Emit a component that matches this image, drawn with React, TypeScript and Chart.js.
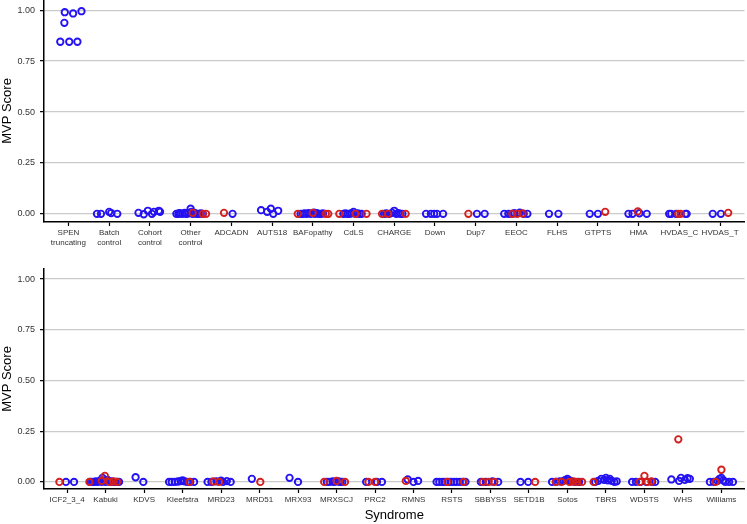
import React, { useEffect, useRef } from "react";
import { Chart, registerables } from "chart.js";
Chart.register(...registerables);

const FONT = "'Liberation Sans', Arial, sans-serif";
const BLUE = "#2412f2";
const RED = "#d41f1f";

const topCategories = [
  "SPEN\ntruncating", "Batch\ncontrol", "Cohort\ncontrol", "Other\ncontrol", "ADCADN", "AUTS18",
  "BAFopathy", "CdLS", "CHARGE", "Down", "Dup7", "EEOC", "FLHS", "GTPTS", "HMA", "HVDAS_C", "HVDAS_T",
];
const bottomCategories = [
  "ICF2_3_4", "Kabuki", "KDVS", "Kleefstra", "MRD23", "MRD51", "MRX93", "MRXSCJ", "PRC2", "RMNS",
  "RSTS", "SBBYSS", "SETD1B", "Sotos", "TBRS", "WDSTS", "WHS", "Williams",
];
const yTickValues = [0, 0.25, 0.5, 0.75, 1];

// [category, jitter (category units), MVP score]
type Pt = [string, number, number];

const topBlue: Pt[] = [
  ["SPEN\ntruncating", -0.2, 0.845], ["SPEN\ntruncating", 0.02, 0.845], ["SPEN\ntruncating", 0.22, 0.845],
  ["SPEN\ntruncating", -0.1, 0.938], ["SPEN\ntruncating", -0.09, 0.99], ["SPEN\ntruncating", 0.115, 0.984],
  ["SPEN\ntruncating", 0.32, 0.995],
  ["Batch\ncontrol", -0.3, 0], ["Batch\ncontrol", -0.2, 0], ["Batch\ncontrol", 0, 0.01], ["Batch\ncontrol", 0.05, 0.004], ["Batch\ncontrol", 0.2, 0],
  ["Cohort\ncontrol", -0.28, 0.005], ["Cohort\ncontrol", -0.15, -0.002], ["Cohort\ncontrol", -0.05, 0.015], ["Cohort\ncontrol", 0.05, 0],
  ["Cohort\ncontrol", 0.1, 0.01], ["Cohort\ncontrol", 0.22, 0.015], ["Cohort\ncontrol", 0.25, 0.01],
  ["Other\ncontrol", -0.35, 0], ["Other\ncontrol", -0.3, 0], ["Other\ncontrol", -0.28, 0.004], ["Other\ncontrol", -0.25, 0.002],
  ["Other\ncontrol", -0.2, 0], ["Other\ncontrol", -0.15, 0.005], ["Other\ncontrol", -0.12, 0.002], ["Other\ncontrol", -0.1, 0],
  ["Other\ncontrol", -0.05, 0.003], ["Other\ncontrol", 0, 0.025], ["Other\ncontrol", 0.02, 0.01], ["Other\ncontrol", 0.05, 0],
  ["Other\ncontrol", 0.08, 0.002], ["Other\ncontrol", 0.1, 0.005], ["Other\ncontrol", 0.15, 0], ["Other\ncontrol", 0.2, 0],
  ["Other\ncontrol", 0.25, 0.002], ["Other\ncontrol", 0.3, 0],
  ["ADCADN", 0.03, 0],
  ["AUTS18", -0.27, 0.018], ["AUTS18", -0.12, 0.01], ["AUTS18", -0.03, 0.025], ["AUTS18", 0.03, 0], ["AUTS18", 0.15, 0.015],
  ["BAFopathy", -0.3, 0], ["BAFopathy", -0.25, 0], ["BAFopathy", -0.2, 0.002], ["BAFopathy", -0.15, 0], ["BAFopathy", -0.1, 0.004],
  ["BAFopathy", -0.05, 0], ["BAFopathy", 0.03, 0.006], ["BAFopathy", 0.05, 0], ["BAFopathy", 0.1, 0.003], ["BAFopathy", 0.15, 0],
  ["BAFopathy", 0.2, 0], ["BAFopathy", 0.25, 0.002],
  ["CdLS", -0.25, 0], ["CdLS", -0.2, 0.002], ["CdLS", -0.15, 0], ["CdLS", -0.1, 0], ["CdLS", -0.05, 0.003], ["CdLS", 0, 0.01],
  ["CdLS", 0.05, 0], ["CdLS", 0.1, 0.002], ["CdLS", 0.15, 0], ["CdLS", 0.2, 0],
  ["CHARGE", -0.25, 0], ["CHARGE", -0.2, 0.002], ["CHARGE", -0.12, 0], ["CHARGE", -0.05, 0.005], ["CHARGE", 0, 0.015],
  ["CHARGE", 0.05, 0], ["CHARGE", 0.1, 0.004], ["CHARGE", 0.15, 0], ["CHARGE", 0.2, 0],
  ["Down", -0.22, 0], ["Down", -0.1, 0], ["Down", -0.02, 0], ["Down", 0.05, 0], ["Down", 0.2, 0],
  ["Dup7", 0.03, 0], ["Dup7", 0.22, 0],
  ["EEOC", -0.3, 0], ["EEOC", -0.2, 0], ["EEOC", -0.12, 0], ["EEOC", -0.05, 0.003], ["EEOC", 0.08, 0.006], ["EEOC", 0.18, 0], ["EEOC", 0.27, 0],
  ["FLHS", -0.2, 0], ["FLHS", 0.03, 0],
  ["GTPTS", -0.2, 0], ["GTPTS", 0, 0],
  ["HMA", -0.25, 0], ["HMA", -0.15, 0], ["HMA", 0.02, 0.003], ["HMA", 0.2, 0],
  ["HVDAS_C", -0.25, 0], ["HVDAS_C", -0.2, 0], ["HVDAS_C", -0.08, 0], ["HVDAS_C", 0.15, 0], ["HVDAS_C", 0.18, 0],
  ["HVDAS_T", -0.18, 0], ["HVDAS_T", 0.02, 0],
];

const topRed: Pt[] = [
  ["Other\ncontrol", 0.05, 0.005], ["Other\ncontrol", 0.3, 0], ["Other\ncontrol", 0.38, 0],
  ["ADCADN", -0.18, 0.005],
  ["BAFopathy", -0.37, 0], ["BAFopathy", 0, 0.005], ["BAFopathy", 0.32, 0], ["BAFopathy", 0.38, 0],
  ["CdLS", -0.35, 0], ["CdLS", 0.05, 0], ["CdLS", 0.32, 0],
  ["CHARGE", -0.3, 0], ["CHARGE", -0.15, 0], ["CHARGE", 0.28, 0],
  ["Dup7", -0.18, 0],
  ["EEOC", -0.1, 0], ["EEOC", 0.02, 0], ["EEOC", 0.15, 0.002],
  ["GTPTS", 0.18, 0.01],
  ["HMA", -0.02, 0.012],
  ["HVDAS_C", -0.03, 0], ["HVDAS_C", 0.03, 0],
  ["HVDAS_T", 0.2, 0.005],
];

const bottomBlue: Pt[] = [
  ["ICF2_3_4", -0.03, 0], ["ICF2_3_4", 0.18, 0],
  ["Kabuki", -0.4, 0], ["Kabuki", -0.35, 0], ["Kabuki", -0.3, 0], ["Kabuki", -0.25, 0.002], ["Kabuki", -0.2, 0],
  ["Kabuki", -0.15, 0.005], ["Kabuki", -0.1, 0], ["Kabuki", -0.08, 0.02], ["Kabuki", -0.05, 0.008], ["Kabuki", 0, 0],
  ["Kabuki", 0.05, 0.01], ["Kabuki", 0.1, 0], ["Kabuki", 0.15, 0.003], ["Kabuki", 0.2, 0], ["Kabuki", 0.25, 0],
  ["Kabuki", 0.3, 0], ["Kabuki", 0.35, 0],
  ["KDVS", -0.22, 0.023], ["KDVS", -0.02, 0],
  ["Kleefstra", -0.35, 0], ["Kleefstra", -0.28, 0], ["Kleefstra", -0.2, 0], ["Kleefstra", -0.12, 0.002], ["Kleefstra", -0.05, 0.004],
  ["Kleefstra", 0, 0.008], ["Kleefstra", 0.05, 0.003], ["Kleefstra", 0.12, 0], ["Kleefstra", 0.2, 0], ["Kleefstra", 0.3, 0],
  ["MRD23", -0.35, 0], ["MRD23", -0.25, 0], ["MRD23", -0.12, 0.003], ["MRD23", 0, 0.006], ["MRD23", 0.05, 0],
  ["MRD23", 0.15, 0.004], ["MRD23", 0.25, 0],
  ["MRD51", -0.2, 0.015],
  ["MRX93", -0.22, 0.02], ["MRX93", 0, 0],
  ["MRXSCJ", -0.25, 0], ["MRXSCJ", -0.18, 0], ["MRXSCJ", -0.1, 0.002], ["MRXSCJ", -0.05, 0], ["MRXSCJ", 0.05, 0.002],
  ["MRXSCJ", 0.1, 0], ["MRXSCJ", 0.15, 0],
  ["PRC2", -0.23, 0], ["PRC2", 0.05, 0], ["PRC2", 0.18, 0],
  ["RMNS", -0.15, 0.012], ["RMNS", 0, 0], ["RMNS", 0.12, 0.005],
  ["RSTS", -0.4, 0], ["RSTS", -0.33, 0], ["RSTS", -0.25, 0], ["RSTS", -0.18, 0], ["RSTS", -0.1, 0], ["RSTS", -0.03, 0],
  ["RSTS", 0.05, 0], ["RSTS", 0.12, 0], ["RSTS", 0.2, 0], ["RSTS", 0.28, 0], ["RSTS", 0.35, 0],
  ["SBBYSS", -0.25, 0], ["SBBYSS", -0.12, 0], ["SBBYSS", 0.05, 0.002], ["SBBYSS", 0.2, 0],
  ["SETD1B", -0.22, 0], ["SETD1B", -0.02, 0],
  ["Sotos", -0.4, 0], ["Sotos", -0.3, 0], ["Sotos", -0.2, 0.003], ["Sotos", -0.1, 0.005], ["Sotos", -0.05, 0.01],
  ["Sotos", 0, 0.015], ["Sotos", 0.05, 0.008], ["Sotos", 0.1, 0.003], ["Sotos", 0.2, 0], ["Sotos", 0.3, 0],
  ["TBRS", -0.28, 0], ["TBRS", -0.2, 0.005], ["TBRS", -0.12, 0.015], ["TBRS", -0.05, 0.01], ["TBRS", 0, 0.02],
  ["TBRS", 0.05, 0.008], ["TBRS", 0.1, 0.015], ["TBRS", 0.15, 0.005], ["TBRS", 0.22, 0], ["TBRS", 0.28, 0.003],
  ["WDSTS", -0.32, 0], ["WDSTS", -0.22, 0], ["WDSTS", -0.1, 0], ["WDSTS", 0.05, 0], ["WDSTS", 0.2, 0], ["WDSTS", 0.28, 0],
  ["WHS", -0.3, 0.012], ["WHS", -0.1, 0.005], ["WHS", -0.05, 0.02], ["WHS", 0.05, 0.01], ["WHS", 0.12, 0.018], ["WHS", 0.18, 0.015],
  ["Williams", -0.3, 0], ["Williams", -0.2, 0], ["Williams", -0.1, 0.005], ["Williams", -0.05, 0.015], ["Williams", 0, 0.02],
  ["Williams", 0.05, 0.008], ["Williams", 0.1, 0], ["Williams", 0.2, 0], ["Williams", 0.3, 0],
];

const bottomRed: Pt[] = [
  ["ICF2_3_4", -0.2, 0],
  ["Kabuki", -0.42, 0], ["Kabuki", -0.1, 0.005], ["Kabuki", -0.02, 0.03], ["Kabuki", 0.1, 0], ["Kabuki", 0.2, 0.002], ["Kabuki", 0.3, 0],
  ["Kleefstra", 0.18, 0],
  ["MRD23", -0.2, 0.002], ["MRD23", -0.05, 0],
  ["MRD51", 0.02, 0],
  ["MRXSCJ", -0.32, 0], ["MRXSCJ", 0, 0.005], ["MRXSCJ", 0.22, 0],
  ["PRC2", -0.17, 0], ["PRC2", 0, 0],
  ["RMNS", -0.2, 0.005],
  ["RSTS", -0.12, 0], ["RSTS", 0.3, 0],
  ["SBBYSS", -0.2, 0], ["SBBYSS", -0.05, 0], ["SBBYSS", 0.1, 0],
  ["SETD1B", 0.16, 0],
  ["Sotos", -0.3, 0], ["Sotos", -0.15, 0], ["Sotos", 0.05, 0], ["Sotos", 0.15, 0.002], ["Sotos", 0.25, 0], ["Sotos", 0.38, 0],
  ["TBRS", -0.32, 0],
  ["WDSTS", -0.12, 0], ["WDSTS", 0, 0.03], ["WDSTS", 0.08, 0], ["WDSTS", 0.18, 0.002],
  ["WHS", -0.12, 0.21],
  ["Williams", -0.15, 0], ["Williams", 0, 0.06],
];

type PanelProps = {
  cats: string[];
  blue: Pt[];
  red: Pt[];
  xTitle: string | null;
  padTop: number;
  xHeight: number;
  yMin: number;
};

const zeroPad = () => ({ left: 0, top: 0, right: 0, bottom: 0 });

function Panel({ cats, blue, red, xTitle, padTop, xHeight, yMin }: PanelProps) {
  const ref = useRef<HTMLCanvasElement | null>(null);
  useEffect(() => {
    if (!ref.current) return;
    const toXY = (pts: Pt[]) => pts.map(([c, j, v]) => ({ x: cats.indexOf(c) + j, y: v }));
    const pointStyle = (color: string) => ({
      pointRadius: 3.2,
      pointBorderWidth: 1.9,
      pointBackgroundColor: "rgba(0,0,0,0)",
      pointBorderColor: color,
      borderColor: color,
      backgroundColor: "rgba(0,0,0,0)",
      showLine: false,
      clip: false,
    });
    const chart = new Chart(ref.current, {
      type: "scatter",
      data: {
        datasets: [
          { label: "red", data: toXY(red), ...pointStyle(RED) },
          { label: "blue", data: toXY(blue), ...pointStyle(BLUE) },
        ],
      },
      options: {
        animation: false,
        responsive: false,
        layout: { autoPadding: false, padding: { top: padTop, right: 2.5, left: 0, bottom: 0 } },
        plugins: { legend: { display: false }, tooltip: { enabled: false } },
        scales: {
          x: {
            type: "linear",
            min: -0.6,
            max: cats.length - 0.4,
            afterBuildTicks: (s: any) => {
              s.ticks = cats.map((_, i) => ({ value: i }));
            },
            afterFit: (s: any) => {
              s.height = xHeight;
              s.paddingLeft = 0;
              s.paddingRight = 0;
              s.paddingTop = 0;
              s.paddingBottom = 0;
              s.getPadding = zeroPad;
            },
            ticks: {
              autoSkip: false,
              maxRotation: 0,
              minRotation: 0,
              padding: 2,
              color: "#333",
              font: { family: FONT, size: 8 },
              callback: (v: any) => {
                const lbl = cats[Math.round(Number(v))];
                return lbl ? lbl.split("\n") : "";
              },
            },
            grid: { drawOnChartArea: false, drawTicks: true, tickLength: 4, tickColor: "#000", tickWidth: 1.2 },
            border: { display: true, color: "#000", width: 1.5 },
            title: xTitle
              ? { display: true, text: xTitle, color: "#000", font: { family: FONT, size: 13 }, padding: { top: 0, bottom: 1 } }
              : { display: false },
          },
          y: {
            type: "linear",
            min: yMin,
            max: 1.05,
            afterBuildTicks: (s: any) => {
              s.ticks = yTickValues.map((v) => ({ value: v }));
            },
            afterFit: (s: any) => {
              s.width = 44;
              s.paddingTop = 0;
              s.paddingBottom = 0;
              s.paddingLeft = 0;
              s.paddingRight = 0;
              s.getPadding = zeroPad;
            },
            ticks: {
              padding: 5,
              color: "#333",
              font: { family: FONT, size: 9 },
              callback: (v: any) => Number(v).toFixed(2),
            },
            grid: { color: "#cbcbcb", lineWidth: 1.3, tickColor: "#000", tickLength: 4, tickWidth: 1.2 },
            border: { display: true, color: "#000", width: 1.5 },
            title: { display: true, text: "MVP Score", color: "#000", font: { family: FONT, size: 13 }, padding: { top: 0, bottom: 0 } },
          },
        },
      },
    } as any);
    return () => chart.destroy();
  }, []);
  return <canvas ref={ref} width={747} height={262} style={{ display: "block", width: 747, height: 262 }} />;
}

export default function App() {
  return (
    <div style={{ position: "absolute", left: 0, top: 0, width: 747, height: 524, background: "#fff" }}>
      <Panel cats={topCategories} blue={topBlue} red={topRed} xTitle={null} padTop={0} xHeight={40} yMin={-0.04} />
      <Panel cats={bottomCategories} blue={bottomBlue} red={bottomRed} xTitle="Syndrome" padTop={7} xHeight={35} yMin={-0.035} />
    </div>
  );
}
